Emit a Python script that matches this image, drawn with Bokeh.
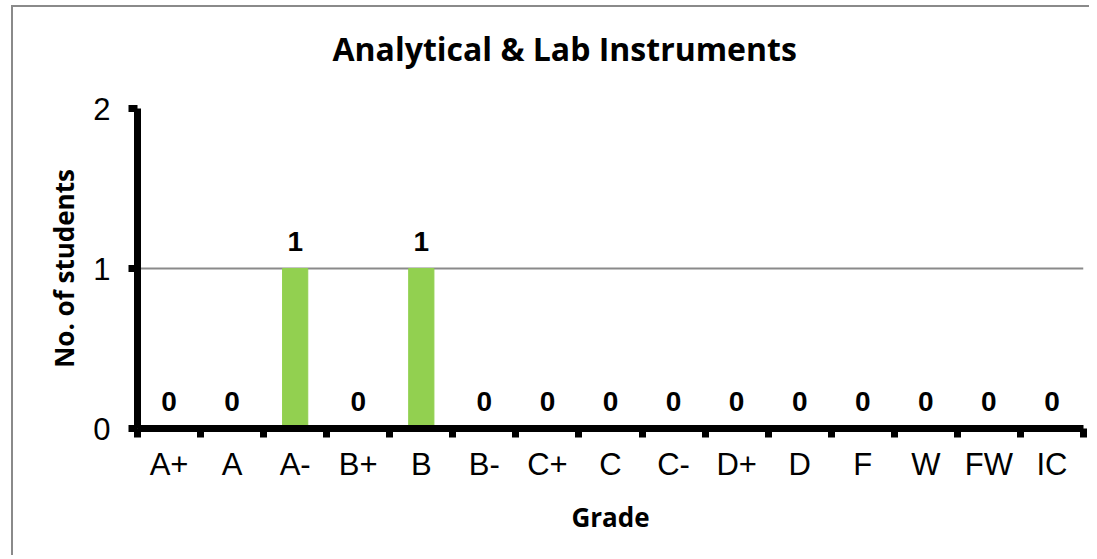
from bokeh.plotting import figure
from bokeh.models import Range1d, FixedTicker, ColumnDataSource, LabelSet, Title
from bokeh.embed import file_html
from bokeh.resources import INLINE
from bokeh.core.properties import value

grades = ["A+", "A", "A-", "B+", "B", "B-", "C+", "C", "C-", "D+", "D", "F", "W", "FW", "IC"]
students = [0, 0, 1, 0, 1, 0, 0, 0, 0, 0, 0, 0, 0, 0, 0]
y_ticks = [0, 1, 2]
title_text = "Analytical & Lab Instruments"
x_title = "Grade"
y_title = "No. of students"

n = len(grades)
centers = list(range(n))
boundaries = [i - 0.5 for i in range(n + 1)]

src = ColumnDataSource(data=dict(x=centers, y=students, label=[str(v) for v in students]))

p = figure(width=1078, height=550, output_backend="svg", toolbar_location=None,
           x_range=Range1d(-0.5, n - 0.5), y_range=Range1d(0, 2),
           title_location=None,
           min_border_left=124, min_border_right=8, min_border_top=101, min_border_bottom=129)

p.margin = (7, 0, 0, 13)
p.styles = {"box-shadow": "-2px -2px 0px 0px #8a8a8a"}
p.background_fill_color = "white"
p.border_fill_color = "white"
p.outline_line_color = None

p.vbar(x="x", top="y", width=0.4, source=src, fill_color="#92D050", line_color="#92D050")
p.add_layout(LabelSet(x="x", y="y", text="label", source=src, text_font=value("Liberation Sans"),
                      text_font_style="bold", text_font_size="28px", text_align="center",
                      text_baseline="alphabetic", y_offset=18, text_color="black"))

# spacer between the frame and the title, then the title itself
p.add_layout(Title(text=" ", text_font_size="2px", standoff=35), "above")
p.add_layout(Title(text=title_text, text_font="Open Sans", text_font_style="bold",
                   text_font_size="32px", text_color="black", align="left",
                   offset=195, standoff=0), "above")

# x axis
xa = p.xaxis[0]
xa.ticker = FixedTicker(ticks=centers, minor_ticks=boundaries)
xa.major_label_overrides = {c: g for c, g in zip(centers, grades)}
xa.major_tick_out = 0
xa.major_tick_in = 0
xa.minor_tick_out = 9
xa.minor_tick_in = 0
xa.minor_tick_line_width = 7
xa.minor_tick_line_color = "black"
xa.axis_line_width = 7
xa.axis_line_color = "black"
xa.major_label_text_font = "Liberation Sans"
xa.major_label_text_font_size = "31px"
xa.major_label_text_color = "black"
xa.major_label_standoff = 9
xa.axis_label = x_title
xa.axis_label_text_font = "Open Sans"
xa.axis_label_text_font_style = "bold"
xa.axis_label_text_font_size = "26px"
xa.axis_label_standoff = 14
xa.axis_label_text_color = "black"

# y axis
ya = p.yaxis[0]
ya.ticker = FixedTicker(ticks=y_ticks)
ya.major_tick_out = 9
ya.major_tick_in = 0
ya.major_tick_line_width = 7
ya.major_tick_line_color = "black"
ya.minor_tick_out = 0
ya.minor_tick_in = 0
ya.axis_line_width = 7
ya.axis_line_color = "black"
ya.major_label_text_font = "Liberation Sans"
ya.major_label_text_font_size = "31px"
ya.major_label_text_color = "black"
ya.major_label_standoff = 18
ya.axis_label = y_title
ya.axis_label_text_font = "Open Sans"
ya.axis_label_text_font_style = "bold"
ya.axis_label_text_font_size = "26px"
ya.axis_label_standoff = 8
ya.axis_label_text_color = "black"

p.xgrid.visible = False
p.ygrid.ticker = FixedTicker(ticks=y_ticks)
p.ygrid.grid_line_color = "#8a8a8a"
p.ygrid.grid_line_width = 2

open("out.html", "w").write(file_html(p, INLINE))
